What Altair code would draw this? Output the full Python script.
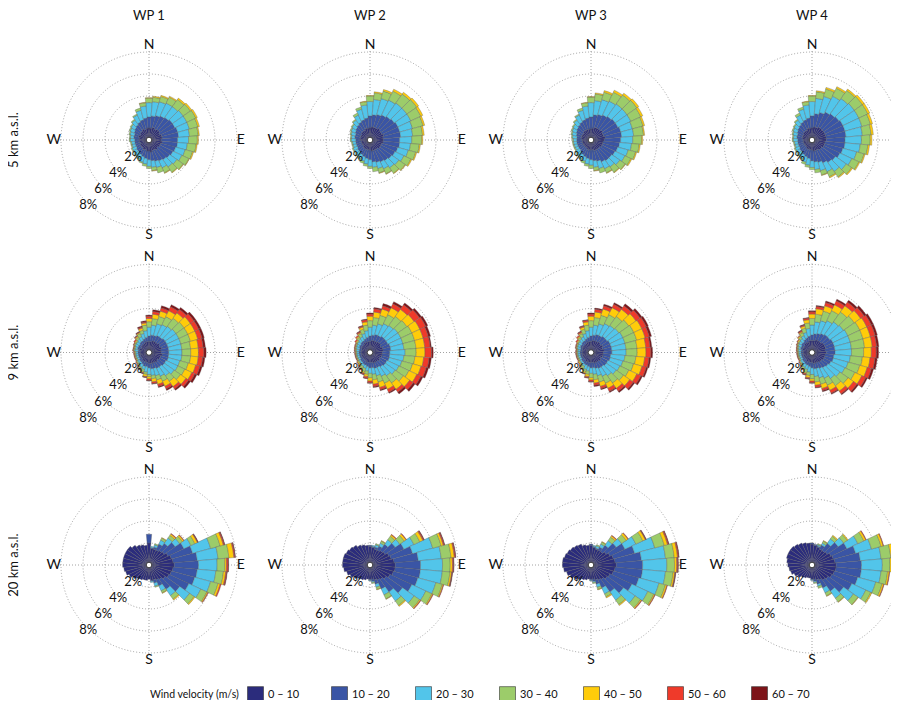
import altair as alt
import pandas as pd

# ---------------------------------------------------------------- categories
CLASSES = ["0 – 10", "10 – 20", "20 – 30", "30 – 40", "40 – 50", "50 – 60", "60 – 70"]
COLORS = ["#2b2c7c", "#3a55a5", "#52c5ea", "#9ccc6a", "#ffcc0a", "#ef3a2a", "#7d1419"]
BEARINGS = list(range(0, 360, 10))          # sector centres (deg), 10 deg sectors
WP_LABELS = ["WP 1", "WP 2", "WP 3", "WP 4"]
LEVEL_LABELS = ["5 km a.s.l.", "9 km a.s.l.", "20 km a.s.l."]
RING_PCT = [2, 4, 6, 8]
RING_LABELS = ["2%", "4%", "6%", "8%"]
COMPASS_LABELS = ["N", "E", "S", "W"]
COMPASS_BEARINGS = [0, 90, 180, 270]
COMPASS_R = [8.65, 8.35, 8.65, 8.65]

# ------------------------------------------------ outer edge of each class (%)
# one list per speed class, 36 sectors (0,10,...,350 deg); 0 = class absent
R1_WP1 = [
    [1.1,1.1,1.2,1.1,1.2,1.2, 1.1,1.2,1.2,1.1,1.2,1.1, 1.1,1.0,1.1,1.0,1.0,1.1, 1.0,1.0,0.9,1.0,0.9,0.9, 0.9,0.8,0.9,0.9,0.9,1.0, 0.9,1.0,1.0,1.1,1.0,1.1],
    [2.1,2.2,2.3,2.4,2.5,2.6, 2.6,2.7,2.7,2.6,2.6,2.5, 2.4,2.3,2.2,2.1,2.0,1.9, 1.8,1.7,1.6,1.5,1.4,1.4, 1.3,1.3,1.3,1.3,1.4,1.4, 1.5,1.6,1.7,1.8,1.9,2.0],
    [3.4,3.5,3.6,3.7,3.7,3.8, 3.8,3.8,3.7,3.6,3.5,3.4, 3.3,3.1,3.0,2.8,2.6,2.5, 2.4,2.2,2.1,1.9,1.8,1.7, 1.7,1.6,1.6,1.7,1.7,1.8, 1.9,2.0,2.2,2.5,2.8,3.1],
    [3.8,3.9,4.1,4.3,4.5,4.6, 4.7,4.6,4.5,4.4,4.3,4.1, 4.0,3.8,3.6,3.3,3.1,2.8, 2.6,2.4,2.2,2.0,1.9,1.8, 1.8,1.7,1.7,1.8,1.8,1.9, 2.0,2.1,2.3,2.6,3.0,3.4],
    [3.85,4.0,4.2,4.4,4.65,4.75, 4.85,4.75,4.6,4.5,4.4,4.2, 4.05,3.85,3.65,3.35,3.1,2.85, 0,0,0,0,0,0, 0,0,0,0,0,0, 0,0,0,0,0,3.45],
]
R1_WP2 = [
    [1.1,1.2,1.2,1.2,1.3,1.2, 1.2,1.3,1.2,1.2,1.2,1.1, 1.1,1.1,1.0,1.0,1.0,1.0, 0.9,0.9,0.9,0.9,0.9,0.8, 0.8,0.8,0.8,0.9,0.9,0.9, 0.9,1.0,1.0,1.0,1.1,1.1],
    [2.2,2.3,2.4,2.5,2.6,2.7, 2.8,2.8,2.8,2.7,2.7,2.6, 2.5,2.4,2.3,2.2,2.1,2.0, 1.8,1.7,1.6,1.5,1.4,1.4, 1.3,1.3,1.3,1.3,1.4,1.4, 1.5,1.6,1.7,1.8,1.9,2.0],
    [3.5,3.7,3.9,4.0,4.1,4.1, 4.1,4.0,3.9,3.8,3.7,3.6, 3.4,3.2,3.1,2.9,2.7,2.5, 2.4,2.2,2.0,1.9,1.8,1.7, 1.7,1.6,1.6,1.7,1.7,1.8, 1.9,2.0,2.2,2.5,2.9,3.2],
    [4.0,4.3,4.6,4.9,5.1,5.2, 5.1,5.0,4.8,4.7,4.5,4.3, 4.1,3.9,3.7,3.4,3.1,2.9, 2.6,2.4,2.2,2.0,1.9,1.8, 1.8,1.7,1.7,1.8,1.8,1.9, 2.0,2.1,2.3,2.7,3.1,3.5],
    [4.05,4.4,4.75,5.1,5.3,5.4, 5.3,5.15,4.95,4.8,4.6,4.4, 4.2,3.95,3.75,3.45,3.15,2.9, 0,0,0,0,0,0, 0,0,0,0,0,0, 0,0,0,0,0,3.55],
]
R1_WP3 = [
    [1.0,1.1,1.2,1.2,1.2,1.3, 1.2,1.2,1.3,1.2,1.1,1.1, 1.1,1.0,1.0,1.0,1.0,0.9, 0.9,0.9,0.9,0.8,0.8,0.8, 0.8,0.8,0.8,0.8,0.9,0.9, 0.9,0.9,1.0,1.0,1.0,1.0],
    [2.1,2.3,2.4,2.5,2.6,2.7, 2.7,2.8,2.8,2.7,2.6,2.5, 2.4,2.3,2.3,2.2,2.0,1.9, 1.8,1.7,1.6,1.5,1.4,1.3, 1.3,1.3,1.3,1.3,1.3,1.4, 1.5,1.6,1.7,1.8,1.9,2.0],
    [3.4,3.6,3.8,3.9,4.0,4.0, 4.0,3.9,3.9,3.8,3.7,3.5, 3.4,3.2,3.0,2.9,2.7,2.5, 2.3,2.2,2.0,1.9,1.8,1.7, 1.6,1.6,1.6,1.6,1.7,1.8, 1.9,2.0,2.2,2.5,2.8,3.1],
    [3.9,4.2,4.5,4.8,5.0,5.1, 5.0,4.9,4.8,4.6,4.4,4.2, 4.0,3.8,3.6,3.3,3.1,2.8, 2.6,2.4,2.2,2.0,1.9,1.8, 1.7,1.7,1.7,1.7,1.8,1.9, 2.0,2.1,2.3,2.6,3.0,3.4],
    [3.95,4.3,4.65,5.0,5.2,5.3, 5.2,5.05,4.9,4.7,4.5,4.3, 4.1,3.85,3.65,3.35,3.1,2.85, 0,0,0,0,0,0, 0,0,0,0,0,0, 0,0,0,0,0,3.45],
]
R1_WP4 = [
    [1.1,1.2,1.2,1.3,1.3,1.3, 1.3,1.3,1.3,1.3,1.2,1.2, 1.2,1.1,1.1,1.0,1.0,1.0, 0.9,0.9,0.9,0.9,0.8,0.8, 0.8,0.8,0.8,0.8,0.9,0.9, 0.9,1.0,1.0,1.0,1.1,1.1],
    [2.2,2.4,2.6,2.8,2.9,3.0, 3.1,3.1,3.1,3.0,3.0,2.9, 2.8,2.6,2.5,2.3,2.1,2.0, 1.9,1.7,1.6,1.5,1.4,1.4, 1.3,1.3,1.3,1.3,1.4,1.4, 1.5,1.6,1.7,1.8,1.9,2.0],
    [3.5,3.8,4.1,4.4,4.6,4.7, 4.7,4.7,4.6,4.5,4.4,4.2, 4.0,3.8,3.5,3.2,2.9,2.7, 2.5,2.3,2.1,1.9,1.8,1.7, 1.7,1.6,1.6,1.7,1.7,1.8, 1.9,2.0,2.2,2.5,2.9,3.2],
    [4.0,4.4,4.8,5.2,5.5,5.6, 5.6,5.5,5.4,5.3,5.1,4.9, 4.7,4.4,4.1,3.7,3.3,3.0, 2.7,2.5,2.3,2.0,1.9,1.8, 1.8,1.7,1.7,1.8,1.8,1.9, 2.0,2.1,2.3,2.7,3.1,3.5],
    [4.05,4.5,4.95,5.35,5.65,5.8, 5.8,5.7,5.6,5.45,5.25,5.0, 4.8,4.5,4.2,3.8,3.35,3.0, 0,0,0,0,0,0, 0,0,0,0,0,0, 0,0,0,0,0,3.55],
]

R2_WP1 = [
    [1.0,1.0,1.1,1.1,1.1,1.2, 1.1,1.2,1.1,1.1,1.2,1.1, 1.1,1.0,1.1,1.0,1.0,1.0, 1.0,0.9,0.9,0.9,0.9,0.8, 0.8,0.8,0.8,0.8,0.8,0.9, 0.8,0.9,0.9,0.9,1.0,1.0],
    [1.5,1.6,1.6,1.7,1.7,1.8, 1.8,1.8,1.8,1.8,1.8,1.8, 1.7,1.7,1.6,1.6,1.5,1.5, 1.4,1.3,1.3,1.2,1.1,1.1, 1.0,1.0,1.0,1.0,1.0,1.1, 1.1,1.1,1.2,1.2,1.3,1.4],
    [2.3,2.5,2.7,2.8,2.9,3.0, 3.0,3.0,3.0,3.0,3.0,2.9, 2.9,2.8,2.6,2.4,2.2,2.1, 2.0,1.8,1.6,1.5,1.4,1.3, 1.2,1.2,1.2,1.2,1.3,1.3, 1.4,1.4,1.5,1.6,1.8,2.0],
    [2.8,3.1,3.4,3.6,3.8,3.9, 3.9,3.9,3.8,3.8,3.8,3.7, 3.6,3.5,3.2,2.9,2.6,2.4, 2.2,2.0,1.8,1.6,1.5,1.4, 1.3,1.3,1.3,1.3,1.4,1.4, 1.5,1.5,1.7,1.9,2.1,2.5],
    [3.1,3.5,3.9,4.2,4.4,4.6, 4.6,4.6,4.5,4.5,4.5,4.4, 4.3,4.1,3.8,3.4,3.0,2.7, 2.4,2.2,1.9,1.7,1.55,1.45, 1.35,1.35,1.35,1.35,1.45,1.45, 1.55,1.6,1.8,2.0,2.3,2.7],
    [3.3,3.75,4.2,4.6,4.8,5.0, 5.0,5.0,4.95,5.0,4.9,4.8, 4.6,4.4,4.05,3.65,3.2,2.85, 2.55,2.25,1.95,1.75,1.6,1.5, 1.4,1.4,1.4,1.4,1.5,1.5, 1.6,1.7,1.85,2.05,2.4,2.8],
    [3.4,3.9,4.4,4.8,5.0,5.2, 5.2,5.2,5.15,5.2,5.1,5.0, 4.8,4.6,4.2,3.8,3.3,2.9, 2.6,2.3,2.0,1.8,0,0, 0,0,0,0,0,0, 0,0,1.9,2.1,2.5,2.9],
]
R2_WP2 = [
    [1.0,1.1,1.1,1.1,1.2,1.2, 1.1,1.2,1.2,1.1,1.1,1.1, 1.0,1.1,1.0,1.0,1.0,0.9, 0.9,0.9,0.9,0.8,0.8,0.8, 0.8,0.8,0.8,0.8,0.8,0.8, 0.9,0.9,0.9,1.0,1.0,1.0],
    [1.5,1.6,1.7,1.7,1.8,1.8, 1.8,1.9,1.9,1.8,1.8,1.8, 1.7,1.7,1.6,1.5,1.5,1.4, 1.4,1.3,1.2,1.2,1.1,1.1, 1.0,1.0,1.0,1.0,1.0,1.0, 1.1,1.1,1.2,1.2,1.3,1.4],
    [2.3,2.5,2.7,2.9,3.0,3.1, 3.1,3.1,3.1,3.2,3.1,3.0, 2.9,2.8,2.6,2.4,2.2,2.0, 1.9,1.7,1.5,1.4,1.3,1.25, 1.2,1.2,1.2,1.2,1.25,1.3, 1.35,1.4,1.5,1.6,1.8,2.0],
    [2.9,3.2,3.5,3.8,4.0,4.1, 4.2,4.2,4.2,4.2,4.1,4.0, 3.9,3.7,3.4,3.1,2.8,2.5, 2.3,2.0,1.8,1.6,1.45,1.35, 1.3,1.3,1.3,1.3,1.35,1.4, 1.45,1.5,1.7,1.9,2.2,2.5],
    [3.3,3.7,4.1,4.5,4.8,4.9, 5.0,5.0,5.0,5.0,4.9,4.8, 4.7,4.4,4.1,3.7,3.3,2.9, 2.6,2.2,1.95,1.7,1.55,1.45, 1.35,1.35,1.35,1.35,1.4,1.45, 1.5,1.6,1.8,2.0,2.4,2.8],
    [3.5,4.0,4.4,4.9,5.3,5.5, 5.6,5.5,5.5,5.6,5.4,5.3, 5.1,4.8,4.4,4.0,3.5,3.1, 2.75,2.35,2.05,1.8,1.6,1.5, 1.4,1.4,1.4,1.4,1.45,1.5, 1.55,1.7,1.9,2.1,2.5,3.0],
    [3.6,4.1,4.6,5.1,5.5,5.7, 5.8,5.7,5.6,5.75,5.6,5.5, 5.3,5.0,4.6,4.1,3.6,3.2, 2.8,2.4,2.1,0,0,0, 0,0,0,0,0,0, 0,0,0,2.15,2.55,3.05],
]
R2_WP3 = [
    [1.0,1.1,1.1,1.1,1.2,1.1, 1.2,1.1,1.2,1.1,1.1,1.1, 1.0,1.1,1.0,1.0,1.0,0.9, 0.9,0.9,0.9,0.9,0.8,0.8, 0.8,0.8,0.8,0.8,0.8,0.8, 0.9,0.9,0.9,0.9,1.0,1.0],
    [1.5,1.6,1.7,1.7,1.8,1.8, 1.9,1.9,1.9,1.9,1.8,1.8, 1.7,1.7,1.6,1.6,1.5,1.4, 1.4,1.3,1.2,1.2,1.1,1.1, 1.0,1.0,1.0,1.0,1.0,1.0, 1.1,1.1,1.2,1.2,1.3,1.4],
    [2.3,2.5,2.7,2.9,3.0,3.1, 3.2,3.2,3.2,3.2,3.1,3.0, 2.9,2.8,2.6,2.4,2.2,2.0, 1.9,1.7,1.6,1.4,1.3,1.25, 1.2,1.2,1.2,1.2,1.2,1.3, 1.35,1.4,1.5,1.6,1.8,2.0],
    [2.9,3.2,3.5,3.8,4.0,4.2, 4.3,4.3,4.2,4.2,4.1,4.0, 3.8,3.6,3.4,3.1,2.8,2.5, 2.3,2.0,1.8,1.6,1.45,1.35, 1.3,1.3,1.3,1.3,1.3,1.4, 1.45,1.5,1.7,1.9,2.2,2.5],
    [3.3,3.7,4.1,4.5,4.8,5.0, 5.1,5.1,5.0,5.0,4.9,4.8, 4.6,4.3,4.0,3.6,3.2,2.8, 2.5,2.2,1.95,1.7,1.55,1.45, 1.35,1.35,1.35,1.35,1.35,1.45, 1.5,1.6,1.8,2.0,2.4,2.8],
    [3.5,3.95,4.4,4.85,5.2,5.45, 5.55,5.5,5.4,5.45,5.3,5.2, 5.0,4.7,4.3,3.9,3.4,3.0, 2.65,2.3,2.0,1.75,1.6,1.5, 1.4,1.4,1.4,1.4,1.4,1.5, 1.55,1.7,1.9,2.1,2.5,2.95],
    [3.6,4.05,4.55,5.0,5.4,5.65, 5.75,5.7,5.55,5.6,5.45,5.35, 5.15,4.85,4.45,4.0,3.5,3.1, 2.7,2.35,2.05,0,0,0, 0,0,0,0,0,0, 0,0,0,2.15,2.55,3.0],
]
R2_WP4 = [
    [1.1,1.1,1.2,1.2,1.2,1.3, 1.3,1.3,1.2,1.3,1.2,1.2, 1.2,1.1,1.1,1.0,1.0,1.0, 0.9,0.9,0.9,0.9,0.8,0.8, 0.8,0.8,0.8,0.8,0.8,0.9, 0.9,0.9,1.0,1.0,1.0,1.1],
    [1.6,1.7,1.8,1.9,2.0,2.0, 2.1,2.1,2.1,2.1,2.0,2.0, 1.9,1.8,1.7,1.6,1.5,1.5, 1.4,1.3,1.2,1.2,1.1,1.1, 1.0,1.0,1.0,1.0,1.0,1.1, 1.1,1.2,1.2,1.3,1.4,1.5],
    [2.5,2.8,3.0,3.2,3.4,3.5, 3.6,3.6,3.6,3.6,3.5,3.4, 3.3,3.1,2.9,2.6,2.4,2.2, 2.0,1.8,1.6,1.5,1.35,1.3, 1.2,1.2,1.2,1.2,1.25,1.3, 1.4,1.45,1.55,1.7,1.9,2.2],
    [3.1,3.5,3.9,4.2,4.5,4.7, 4.8,4.8,4.8,4.7,4.6,4.5, 4.3,4.0,3.7,3.3,3.0,2.7, 2.4,2.1,1.9,1.65,1.5,1.4, 1.3,1.3,1.3,1.3,1.35,1.4, 1.5,1.55,1.75,2.0,2.3,2.7],
    [3.5,4.0,4.4,4.8,5.2,5.4, 5.5,5.5,5.5,5.4,5.3,5.2, 5.0,4.6,4.3,3.8,3.4,3.0, 2.6,2.3,2.0,1.75,1.55,1.45, 1.35,1.35,1.35,1.35,1.4,1.45, 1.55,1.65,1.85,2.1,2.5,3.0],
    [3.7,4.2,4.7,5.2,5.6,5.8, 5.95,5.95,5.9,5.85,5.75,5.6, 5.4,5.0,4.6,4.1,3.6,3.2, 2.75,2.4,2.1,1.8,1.6,1.5, 1.4,1.4,1.4,1.4,1.45,1.5, 1.6,1.7,1.9,2.2,2.6,3.15],
    [3.8,4.3,4.85,5.35,5.8,6.0, 6.15,6.15,6.1,6.05,5.95,5.8, 5.55,5.15,4.7,4.2,3.7,3.25, 2.8,2.45,2.15,0,0,0, 0,0,0,0,0,0, 0,0,0,2.25,2.65,3.2],
]

R3_WP1 = [
    [2.0,1.5,1.5,1.5,1.6,1.7, 1.9,2.1,2.2,2.3,2.2,2.1, 2.0,1.8,1.6,1.5,1.4,1.4, 1.3,1.4,1.4,1.5,1.6,1.8, 2.0,2.2,2.3,2.4,2.4,2.4, 2.4,2.4,2.2,2.0,1.9,1.8],
    [2.8,1.6,1.7,2.1,2.4,2.9, 3.5,4.1,4.4,4.5,4.4,4.3, 4.0,3.4,2.7,2.1,1.7,1.5, 0,0,0,0,0,0, 0,0,0,0,0,0, 0,0,0,0,0,0],
    [0,1.7,1.9,2.5,3.0,3.4, 4.2,5.8,6.3,6.2,6.1,5.8, 5.2,4.5,3.4,2.6,2.0,1.6, 0,0,0,0,0,0, 0,0,0,0,0,0, 0,0,0,0,0,0],
    [0,0,2.0,2.7,3.3,3.7, 4.6,6.7,7.3,6.9,6.8,6.5, 5.8,5.0,3.8,2.8,2.1,0, 0,0,0,0,0,0, 0,0,0,0,0,0, 0,0,0,0,0,0],
    [0,0,0,2.75,3.45,3.85, 4.85,7.0,7.75,7.05,7.0,6.7, 5.9,5.1,3.9,2.85,0,0, 0,0,0,0,0,0, 0,0,0,0,0,0, 0,0,0,0,0,0],
    [0,0,0,0,3.5,3.9, 4.9,7.1,7.85,7.2,7.1,6.8, 5.95,0,0,0,0,0, 0,0,0,0,0,0, 0,0,0,0,0,0, 0,0,0,0,0,0],
    [0,0,0,0,0,0, 4.95,7.15,7.9,7.25,7.15,0, 0,0,0,0,0,0, 0,0,0,0,0,0, 0,0,0,0,0,0, 0,0,0,0,0,0],
]
R3_WP2 = [
    [1.7,1.6,1.5,1.5,1.6,1.7, 1.9,2.0,2.2,2.3,2.3,2.2, 2.0,1.8,1.6,1.5,1.4,1.3, 1.3,1.3,1.4,1.5,1.6,1.8, 2.0,2.2,2.4,2.5,2.5,2.5, 2.4,2.3,2.2,2.0,1.9,1.8],
    [1.8,1.7,1.7,1.9,2.3,2.8, 3.4,4.0,4.4,4.6,4.6,4.5, 4.2,3.6,3.0,2.4,1.8,1.5, 1.4,0,0,0,0,0, 0,0,0,0,0,0, 0,0,0,0,0,0],
    [0,1.8,1.9,2.2,2.8,3.3, 4.4,5.9,6.5,6.6,6.6,6.2, 5.6,4.9,4.0,3.0,2.1,1.6, 1.45,0,0,0,0,0, 0,0,0,0,0,0, 0,0,0,0,0,0],
    [0,0,2.0,2.4,3.2,3.8, 5.0,6.7,7.4,7.3,7.3,6.8, 6.2,5.5,4.5,3.4,2.3,1.7, 0,0,0,0,0,0, 0,0,0,0,0,0, 0,0,0,0,0,0],
    [0,0,0,2.45,3.35,4.0, 5.3,6.9,7.7,7.5,7.45,6.9, 6.3,5.6,4.6,3.45,2.35,0, 0,0,0,0,0,0, 0,0,0,0,0,0, 0,0,0,0,0,0],
    [0,0,0,0,3.4,4.05, 5.4,7.0,7.8,7.6,7.5,6.95, 6.35,5.65,0,0,0,0, 0,0,0,0,0,0, 0,0,0,0,0,0, 0,0,0,0,0,0],
    [0,0,0,0,0,0, 5.45,7.05,7.85,7.65,7.55,0, 0,0,0,0,0,0, 0,0,0,0,0,0, 0,0,0,0,0,0, 0,0,0,0,0,0],
]
R3_WP3 = [
    [1.8,1.6,1.5,1.5,1.5,1.7, 1.9,2.1,2.2,2.3,2.2,2.1, 1.9,1.8,1.6,1.5,1.4,1.3, 1.3,1.3,1.4,1.5,1.7,1.9, 2.1,2.3,2.5,2.6,2.6,2.5, 2.4,2.3,2.2,2.1,1.9,1.8],
    [1.9,1.7,1.6,1.8,2.2,2.8, 3.4,4.1,4.6,4.7,4.7,4.5, 4.1,3.6,3.0,2.3,1.8,1.5, 1.4,0,0,0,0,0, 0,0,0,0,0,0, 0,0,0,0,0,0],
    [0,1.8,1.8,2.1,2.7,3.4, 4.5,6.0,6.8,6.9,6.8,6.4, 5.7,4.9,3.9,2.9,2.1,1.6, 1.45,0,0,0,0,0, 0,0,0,0,0,0, 0,0,0,0,0,0],
    [0,0,1.9,2.3,3.1,3.9, 5.2,6.9,7.6,7.6,7.5,7.0, 6.3,5.5,4.4,3.2,2.3,1.7, 0,0,0,0,0,0, 0,0,0,0,0,0, 0,0,0,0,0,0],
    [0,0,0,2.35,3.25,4.1, 5.45,7.2,7.9,7.8,7.65,7.15, 6.4,5.6,4.5,3.3,2.35,0, 0,0,0,0,0,0, 0,0,0,0,0,0, 0,0,0,0,0,0],
    [0,0,0,0,3.3,4.15, 5.5,7.3,8.0,7.9,7.7,7.2, 6.45,5.65,0,0,0,0, 0,0,0,0,0,0, 0,0,0,0,0,0, 0,0,0,0,0,0],
    [0,0,0,0,0,0, 5.55,7.35,8.05,7.95,7.75,0, 0,0,0,0,0,0, 0,0,0,0,0,0, 0,0,0,0,0,0, 0,0,0,0,0,0],
]
R3_WP4 = [
    [1.9,1.8,1.7,1.6,1.6,1.7, 1.9,2.0,2.1,2.2,2.2,2.1, 2.0,1.8,1.7,1.5,1.4,1.3, 1.3,1.2,1.2,1.3,1.4,1.6, 1.8,2.0,2.1,2.2,2.3,2.4, 2.4,2.4,2.3,2.2,2.1,2.0],
    [2.0,1.9,1.8,2.0,2.4,2.9, 3.5,4.1,4.4,4.5,4.5,4.3, 4.0,3.5,2.9,2.3,1.8,1.5, 1.35,0,0,0,0,0, 0,0,0,0,0,0, 0,0,0,0,0,0],
    [0,0,1.9,2.2,2.9,3.5, 4.6,5.6,6.3,6.4,6.3,6.0, 5.4,4.6,3.7,2.8,2.0,1.6, 1.4,0,0,0,0,0, 0,0,0,0,0,0, 0,0,0,0,0,0],
    [0,0,2.0,2.4,3.2,3.9, 5.2,6.5,7.2,7.1,6.9,6.6, 5.9,5.1,4.1,3.1,2.2,1.7, 0,0,0,0,0,0, 0,0,0,0,0,0, 0,0,0,0,0,0],
    [0,0,0,2.45,3.3,4.0, 5.4,6.7,7.5,7.3,7.05,6.75, 6.0,5.15,4.15,3.15,0,0, 0,0,0,0,0,0, 0,0,0,0,0,0, 0,0,0,0,0,0],
    [0,0,0,0,0,0, 5.45,6.75,7.55,7.35,7.1,6.8, 0,0,0,0,0,0, 0,0,0,0,0,0, 0,0,0,0,0,0, 0,0,0,0,0,0],
]

PANELS = [
    [R1_WP1, R1_WP2, R1_WP3, R1_WP4],
    [R2_WP1, R2_WP2, R2_WP3, R2_WP4],
    [R3_WP1, R3_WP2, R3_WP3, R3_WP4],
]

# ---------------------------------------------------------------- tables
bar_rows = []
for ri, row_panels in enumerate(PANELS):
    for ci, edges in enumerate(row_panels):
        prev = [0.0] * len(BEARINGS)
        for k, e in enumerate(edges):
            cur = [max(p, v) for p, v in zip(prev, e)]
            for j, b in enumerate(BEARINGS):
                if cur[j] > prev[j]:
                    bar_rows.append({"row": ri, "col": ci, "t0": b - 5, "t1": b + 5,
                                     "r0": prev[j], "r1": cur[j], "cls": CLASSES[k]})
            prev = cur
bars_df = pd.DataFrame(bar_rows)

centers = [{"row": r, "col": c, "t0": 0, "t1": 360, "hole": 0.25}
           for r in range(len(LEVEL_LABELS)) for c in range(len(WP_LABELS))]
centers_df = pd.DataFrame(centers)
rings_df = pd.DataFrame([dict(d, ring=g) for d in centers for g in RING_PCT])
compass_df = pd.DataFrame([{"row": d["row"], "col": d["col"], "lab": l, "b": b, "r": rr}
                           for d in centers
                           for l, b, rr in zip(COMPASS_LABELS, COMPASS_BEARINGS, COMPASS_R)])
pct_df = pd.DataFrame([{"row": d["row"], "col": d["col"], "lab": l, "b": 223, "r": g + 0.1}
                       for d in centers for l, g in zip(RING_LABELS, RING_PCT)])
wp_df = pd.DataFrame({"col": list(range(len(WP_LABELS))), "lab": WP_LABELS})
lvl_df = pd.DataFrame({"row": list(range(len(LEVEL_LABELS))), "lab": LEVEL_LABELS})

# ---------------------------------------------------------------- scales
FONT = "Lato"
XS = alt.Scale(domain=[0, 3], range=[141, 804], nice=False, zero=False)
YS = alt.Scale(domain=[0, 2], range=[132, 557], nice=False, zero=False)
TS = alt.Scale(domain=[0, 360], range=[0, 6.283185307179586], nice=False, zero=False)
RS = alt.Scale(type="linear", domain=[0, 10], range=[0, 110], nice=False)

X = alt.X("col:Q", scale=XS, axis=None)
Y = alt.Y("row:Q", scale=YS, axis=None)

rings = alt.Chart(rings_df).mark_arc(fillOpacity=0, stroke="#8a8a8a", strokeWidth=0.8,
                                      strokeDash=[1, 2]).encode(
    x=X, y=Y,
    theta=alt.Theta("t0:Q", scale=TS), theta2="t1:Q",
    radius=alt.Radius("ring:Q", scale=RS),
)

cross_v = alt.Chart(centers_df).mark_rule(color="#8a8a8a", strokeWidth=0.8, strokeDash=[1, 2],
                                          yOffset=-89, y2Offset=89).encode(
    x=X, y=Y, y2=alt.Y2("row:Q"))
cross_h = alt.Chart(centers_df).mark_rule(color="#8a8a8a", strokeWidth=0.8, strokeDash=[1, 2],
                                          xOffset=-89, x2Offset=89).encode(
    x=X, x2=alt.X2("col:Q"), y=Y)

bars = alt.Chart(bars_df).mark_arc(stroke="#5a5a5a", strokeWidth=0.35).encode(
    x=X, y=Y,
    theta=alt.Theta("t0:Q", scale=TS), theta2="t1:Q",
    radius=alt.Radius("r1:Q", scale=RS), radius2="r0:Q",
    color=alt.Color("cls:N", scale=alt.Scale(domain=CLASSES, range=COLORS),
                    legend=alt.Legend(title="Wind velocity (m/s)", orient="none",
                                      legendX=142, legendY=678, direction="horizontal",
                                      titleOrient="left", titleFont=FONT, titleFontSize=10.5,
                                      titleFontWeight="normal", titleColor="#111",
                                      titlePadding=7, labelFont=FONT, labelFontSize=11,
                                      labelColor="#111", symbolType="square",
                                      symbolSize=256, symbolStrokeColor="#333",
                                      symbolStrokeWidth=0.6, symbolOpacity=1,
                                      labelOffset=4, columnPadding=24, gridAlign="all")),
)

hole = alt.Chart(centers_df).mark_arc(fill="white", stroke="#222", strokeWidth=0.8).encode(
    x=X, y=Y,
    theta=alt.Theta("t0:Q", scale=TS), theta2="t1:Q",
    radius=alt.Radius("hole:Q", scale=RS),
)

compass = alt.Chart(compass_df).mark_text(font=FONT, fontSize=14, color="#111",
                                          align="center", baseline="middle").encode(
    x=X, y=Y,
    theta=alt.Theta("b:Q", scale=TS), radius=alt.Radius("r:Q", scale=RS),
    text="lab:N")

pct = alt.Chart(pct_df).mark_text(font=FONT, fontSize=13, color="#111",
                                  align="center", baseline="middle").encode(
    x=X, y=Y,
    theta=alt.Theta("b:Q", scale=TS), radius=alt.Radius("r:Q", scale=RS),
    text="lab:N")

wp = alt.Chart(wp_df).mark_text(font=FONT, fontSize=13, color="#111",
                                align="center", baseline="middle").encode(
    x=X, y=alt.value(8), text="lab:N")

lvl = alt.Chart(lvl_df).mark_text(font=FONT, fontSize=13, color="#111", angle=270,
                                  align="center", baseline="middle").encode(
    x=alt.value(6), y=Y, text="lab:N")

chart = alt.layer(rings, cross_v, cross_h, bars, hole, compass, pct, wp, lvl).properties(
    width=883, height=692, padding=0,
    autosize=alt.AutoSizeParams(type="none"),
).configure_view(stroke=None)

chart.save("out.html", embed_options={"renderer": "svg", "actions": False})
